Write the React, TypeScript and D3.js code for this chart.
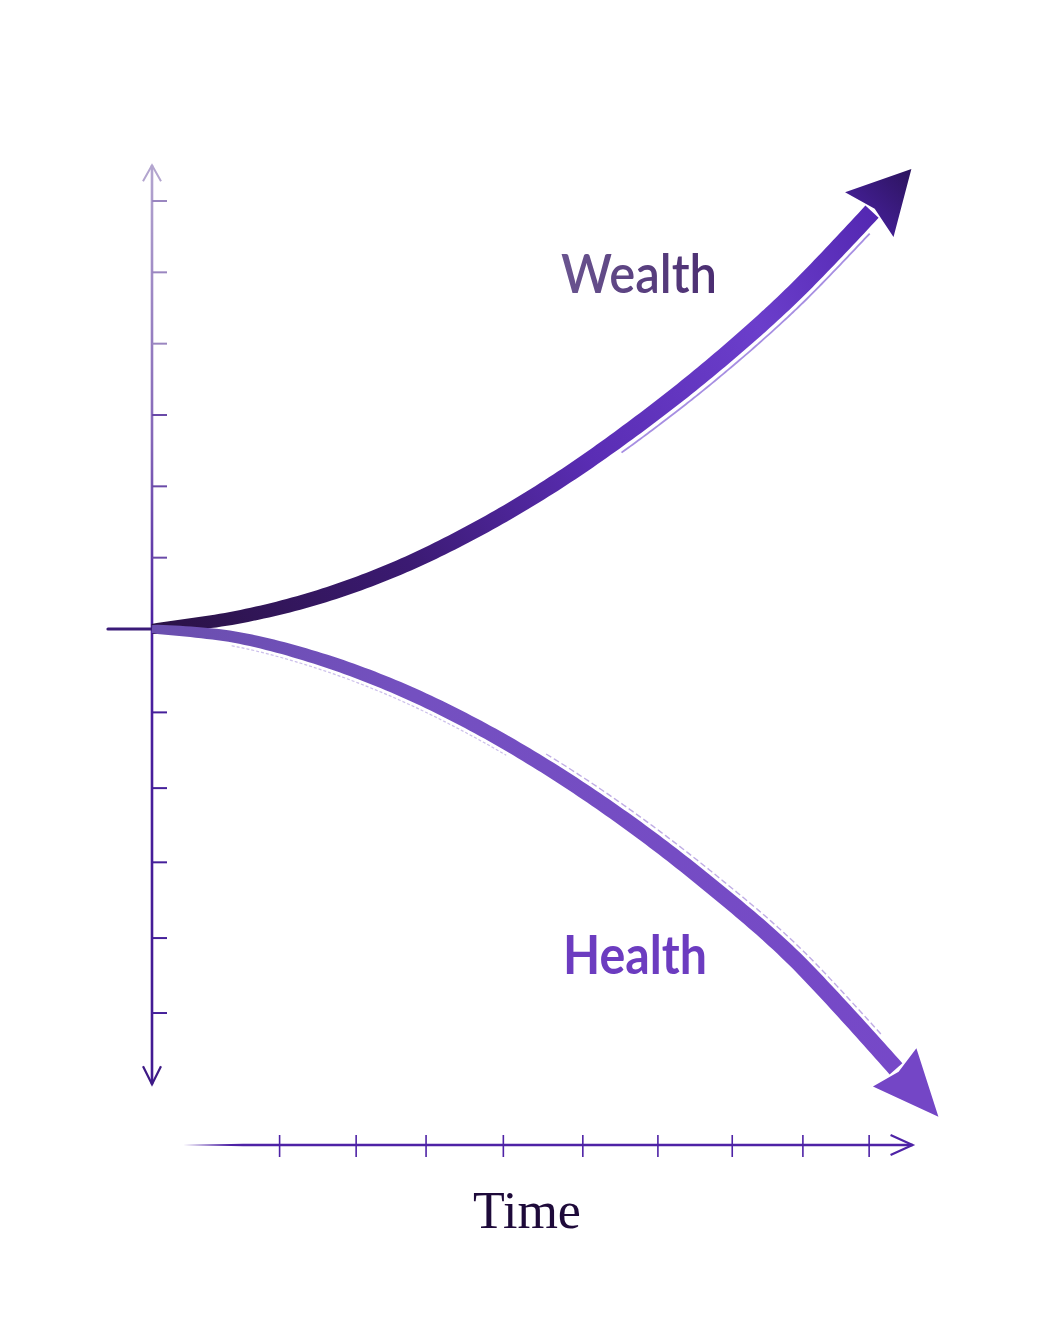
import { useEffect, useRef } from 'react'
import * as d3 from 'd3'

// time axis ticks and level ticks (unlabelled, hand-placed in the original)
const timeTicks = [1.0, 2.04, 2.99, 4.04, 5.12, 6.14, 7.15, 8.11, 9.01]
const levelTicksUp = [1, 2, 3, 4, 5, 6]
const levelTicksDown = [-1.09, -2.08, -3.05, -4.04, -5.02]

// curve samples: progress along time vs level
const wealthT = [0, 1, 2, 3, 4, 5, 6, 7, 8, 9]
const wealthV = [0, 0.15, 0.42, 0.82, 1.36, 2.02, 2.8, 3.68, 4.68, 5.85]
const healthT = [0, 1, 2, 3, 4, 5, 6, 7, 8, 9.3]
const healthV = [0, -0.1, -0.36, -0.74, -1.24, -1.85, -2.56, -3.37, -4.28, -5.75]

const W = 1056
const H = 1320

const curveX = d3.scaleLinear().domain([0, 10]).range([152, 952])
const timeX = d3.scaleLinear().domain([0, 10]).range([206, 942])
const y = d3.scaleLinear().domain([-6, 0, 6]).range([1088, 629, 201])

type Pt = [number, number]

function ribbon(
  svg: d3.Selection<SVGSVGElement, unknown, null, undefined>,
  pts: Pt[],
  w0: number,
  w1: number,
) {
  const line = d3.line().curve(d3.curveCatmullRom.alpha(0.5))
  const tmp = svg.append('path').attr('d', line(pts)).attr('fill', 'none')
  const node = tmp.node() as SVGPathElement
  const L = node.getTotalLength()
  const N = 160
  const left: Pt[] = []
  const right: Pt[] = []
  let end = { x: 0, y: 0, tx: 1, ty: 0 }
  for (let i = 0; i <= N; i++) {
    const s = (L * i) / N
    const p = node.getPointAtLength(s)
    const a = node.getPointAtLength(Math.max(0, s - 1))
    const b = node.getPointAtLength(Math.min(L, s + 1))
    let tx = b.x - a.x, ty = b.y - a.y
    const n = Math.hypot(tx, ty) || 1
    tx /= n; ty /= n
    const w = (w0 + (w1 - w0) * Math.pow(i / N, 0.4)) / 2
    left.push([p.x - ty * w, p.y + tx * w])
    right.push([p.x + ty * w, p.y - tx * w])
    end = { x: p.x, y: p.y, tx, ty }
  }
  tmp.remove()
  const poly = left.concat(right.slice().reverse())
  return { d: 'M' + poly.map(p => p.join(',')).join('L') + 'Z', end, left, right }
}

function head(end: { x: number; y: number; tx: number; ty: number }, len: number, half: number, back: number) {
  const { x, y: yy, tx, ty } = end
  const tip: Pt = [x + tx * len, yy + ty * len]
  const c1: Pt = [x - ty * half - tx * back, yy + tx * half - ty * back]
  const c2: Pt = [x + ty * half - tx * back, yy - tx * half - ty * back]
  const neck: Pt = [x + tx * 4, yy + ty * 4]
  return `M${tip}L${c1}L${neck}L${c2}Z`
}

export default function App() {
  const svgRef = useRef<SVGSVGElement>(null)

  useEffect(() => {
    if (!svgRef.current) return
    const svg = d3.select(svgRef.current)
    const g = svg.select<SVGGElement>('g.curves')
    g.selectAll('*').remove()

    const wPts: Pt[] = wealthT.map((t, i) => [curveX(t), y(wealthV[i])])
    const hPts: Pt[] = healthT.map((t, i) => [curveX(t), y(healthV[i])])

    const wr = ribbon(svg, wPts, 10, 18)
    const hr = ribbon(svg, hPts, 8, 17)

    // faint echo strokes beside the brush
    const echo = d3.line().curve(d3.curveCatmullRom.alpha(0.5))
    const wEcho = wr.left.slice(95, 158).map(([px, py]) => [px + 2, py + 4] as Pt)
    g.append('path').attr('d', echo(wEcho)).attr('fill', 'none')
      .attr('stroke', '#8a6ad8').attr('stroke-width', 1.8).attr('opacity', 0.75)
    const hEcho1 = hr.left.slice(15, 70).map(([px, py]) => [px - 2, py + 3] as Pt)
    g.append('path').attr('d', echo(hEcho1)).attr('fill', 'none')
      .attr('stroke', '#9a80d8').attr('stroke-width', 1.2).attr('opacity', 0.5)
      .attr('stroke-dasharray', '3,2')
    const hEcho2 = hr.right.slice(75, 155).map(([px, py]) => [px + 2, py - 3] as Pt)
    g.append('path').attr('d', echo(hEcho2)).attr('fill', 'none')
      .attr('stroke', '#8a68d0').attr('stroke-width', 1.4).attr('opacity', 0.55)
      .attr('stroke-dasharray', '6,3')

    g.append('path').attr('d', wr.d).attr('fill', 'url(#wealthGrad)')
    g.append('path').attr('d', head(wr.end, 58, 33, 4)).attr('fill', 'url(#wealthHead)')

    g.append('path').attr('d', hr.d).attr('fill', 'url(#healthGrad)')
    g.append('path').attr('d', head(hr.end, 64, 29, 2)).attr('fill', '#7446c6')
  }, [])

  const axisX = curveX(0)
  const y0 = y(0)
  const yTop = y(6.5)
  const yBot = y(-5.95)
  const xStart = timeX(-0.31)
  const xEnd = timeX(9.6)
  const axisY = 1145

  return (
    <svg
      ref={svgRef}
      width={W}
      height={H}
      style={{ position: 'absolute', left: 0, top: 0, background: '#fff' }}
    >
      <defs>
        <linearGradient id="vAxisGrad" gradientUnits="userSpaceOnUse" x1={0} y1={yTop} x2={0} y2={yBot}>
          <stop offset="0" stopColor="#b3a5cf" />
          <stop offset="0.3" stopColor="#8466b8" />
          <stop offset="0.5" stopColor="#4b20a0" />
          <stop offset="1" stopColor="#421a92" />
        </linearGradient>
        <linearGradient id="wealthGrad" gradientUnits="userSpaceOnUse" x1={152} y1={629} x2={880} y2={200}>
          <stop offset="0" stopColor="#2a1245" />
          <stop offset="0.3" stopColor="#3b1a72" />
          <stop offset="0.55" stopColor="#5a2db4" />
          <stop offset="0.8" stopColor="#6b3ecb" />
          <stop offset="1" stopColor="#5226b0" />
        </linearGradient>
        <linearGradient id="wealthHead" gradientUnits="userSpaceOnUse" x1={850} y1={230} x2={908} y2={170}>
          <stop offset="0" stopColor="#4a22a4" />
          <stop offset="1" stopColor="#2d1460" />
        </linearGradient>
        <linearGradient id="healthGrad" gradientUnits="userSpaceOnUse" x1={152} y1={629} x2={900} y2={1060}>
          <stop offset="0" stopColor="#6a4fae" />
          <stop offset="0.3" stopColor="#7450c0" />
          <stop offset="1" stopColor="#7648c8" />
        </linearGradient>
        <linearGradient id="wealthText" gradientUnits="userSpaceOnUse" x1={560} y1={0} x2={720} y2={0}>
          <stop offset="0" stopColor="#6a5590" />
          <stop offset="1" stopColor="#4a2c70" />
        </linearGradient>
      </defs>

      {/* vertical axis */}
      <line x1={axisX} x2={axisX} y1={yTop} y2={yBot} stroke="url(#vAxisGrad)" strokeWidth={2.6} />
      <path
        d={`M${axisX - 9},${yTop + 16}L${axisX},${yTop}L${axisX + 9},${yTop + 16}`}
        fill="none" stroke="#b3a5cf" strokeWidth={2}
      />
      <path
        d={`M${axisX - 9},${yBot - 18}L${axisX},${yBot}L${axisX + 9},${yBot - 18}`}
        fill="none" stroke="#3e1a86" strokeWidth={2.2}
      />
      {levelTicksUp.concat(levelTicksDown).map(v => (
        <line key={v} x1={axisX} x2={axisX + 15} y1={y(v)} y2={y(v)}
          stroke={v > 3 ? '#9a86c0' : v > 0 ? '#6a4aa8' : '#45209a'} strokeWidth={2} />
      ))}
      <line x1={axisX - 44} x2={axisX} y1={y0} y2={y0} stroke="#3a1a78" strokeWidth={3.2} strokeLinecap="round" />

      {/* curves */}
      <g className="curves" />

      {/* time axis */}
      <path
        d={`M${xStart},${axisY}L${xStart + 60},${axisY - 1.3}L${xEnd},${axisY - 1.3}L${xEnd},${axisY + 1.3}L${xStart + 60},${axisY + 1.3}Z`}
        fill="#4e22a6"
      />
      <path
        d={`M${xEnd - 22},${axisY - 10}L${xEnd},${axisY}L${xEnd - 22},${axisY + 10}`}
        fill="none" stroke="#4e22a6" strokeWidth={2.2}
      />
      {timeTicks.map(t => (
        <line key={t} x1={timeX(t)} x2={timeX(t)} y1={axisY - 10} y2={axisY + 12}
          stroke="#4e22a6" strokeWidth={1.6} />
      ))}
      <text x={527} y={1228} textAnchor="middle" fontFamily="'Liberation Serif', serif"
        fontSize={52} fill="#1e0a3a">Time</text>

      {/* labels */}
      <text x={561} y={293} fontFamily="Lato, 'Noto Sans', sans-serif" fontWeight={600}
        fontSize={54} textLength={156} lengthAdjust="spacingAndGlyphs" fill="url(#wealthText)">Wealth</text>
      <text x={563} y={974} fontFamily="Lato, 'Noto Sans', sans-serif" fontWeight={700}
        fontSize={54} textLength={144} lengthAdjust="spacingAndGlyphs" fill="#6c3cc0">Health</text>
    </svg>
  )
}
